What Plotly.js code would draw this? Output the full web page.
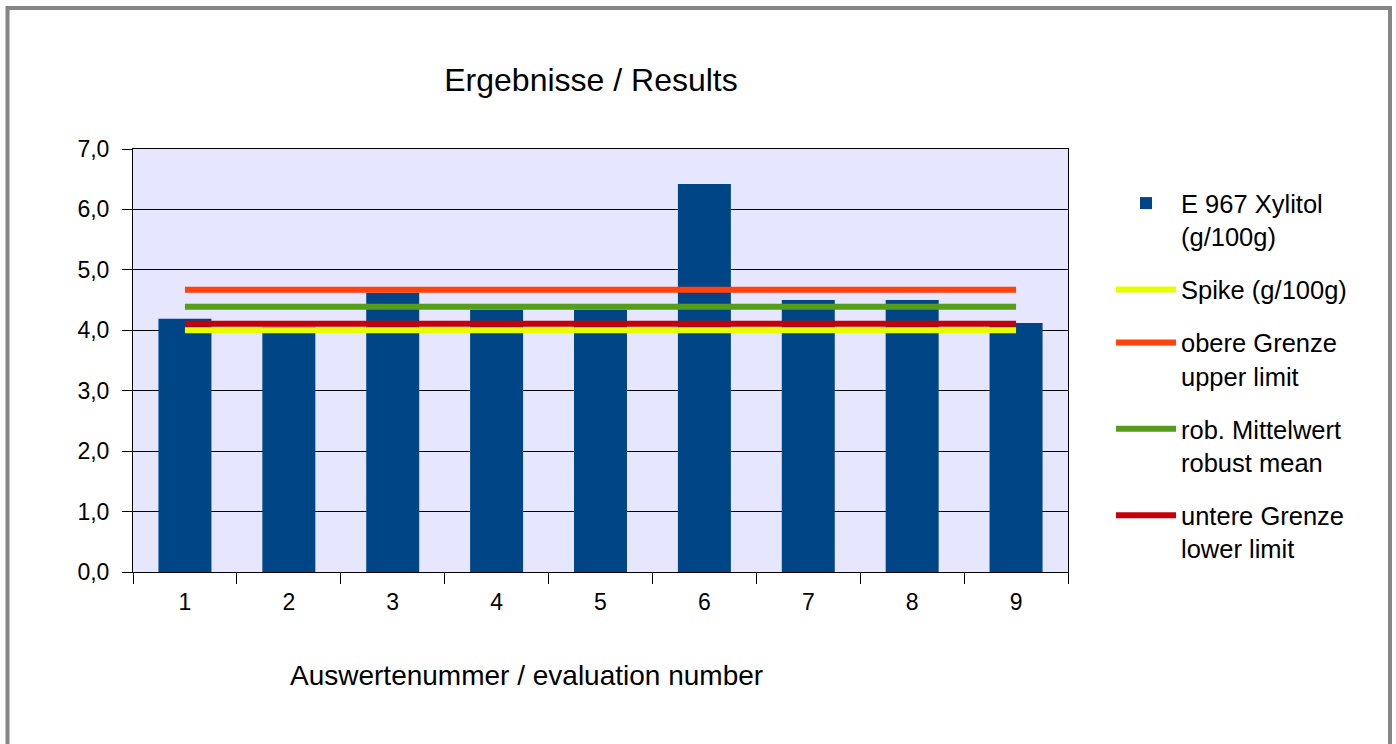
<!DOCTYPE html>
<html>
<head>
<meta charset="utf-8">
<script src="https://cdn.plot.ly/plotly-3.0.1.min.js"></script>
<style>
html,body{margin:0;padding:0;background:#fff;}
#chart{width:1396px;height:744px;}
</style>
</head>
<body>
<div id="chart"></div>
<script>
// ---- data ----
var categories = ["1", "2", "3", "4", "5", "6", "7", "8", "9"];
var xylitolValues = [4.19, 4.06, 4.62, 4.34, 4.34, 6.42, 4.50, 4.50, 4.12];
var lineEnds = ["1", "9"];
var spikeValues = [4.00, 4.00];
var upperLimitValues = [4.67, 4.67];
var robustMeanValues = [4.39, 4.39];
var lowerLimitValues = [4.11, 4.11];
var yTickValues = [0, 1, 2, 3, 4, 5, 6, 7];

var seriesNames = {
  bar: "E 967 Xylitol<br>(g/100g)",
  spike: "Spike (g/100g)",
  upper: "obere Grenze<br>upper limit",
  mean: "rob. Mittelwert<br>robust mean",
  lower: "untere Grenze<br>lower limit"
};

var FONT = "Liberation Sans, Arial, sans-serif";

var traces = [
  {type: "bar", x: categories, y: xylitolValues, name: seriesNames.bar,
   marker: {color: "#004586", line: {width: 0}}, legendgroup: "g1", hoverinfo: "y"},
  {type: "scatter", mode: "lines", x: lineEnds, y: spikeValues, name: seriesNames.spike,
   line: {color: "#e6ff00", width: 6}, legendgroup: "g2"},
  {type: "scatter", mode: "lines", x: lineEnds, y: upperLimitValues, name: seriesNames.upper,
   line: {color: "#ff420e", width: 6}, legendgroup: "g3"},
  {type: "scatter", mode: "lines", x: lineEnds, y: robustMeanValues, name: seriesNames.mean,
   line: {color: "#579d1c", width: 6}, legendgroup: "g4"},
  {type: "scatter", mode: "lines", x: lineEnds, y: lowerLimitValues, name: seriesNames.lower,
   line: {color: "#c5000b", width: 6}, legendgroup: "g5"}
];

var L = 133, R = 1068, T = 149, B = 572;
var W = R - L, H = B - T;
function px(x){ return (x - L) / W; }
function py(y){ return (B - y) / H; }

var layout = {
  width: 1396, height: 744,
  paper_bgcolor: "#ffffff",
  plot_bgcolor: "#e6e6ff",
  margin: {l: L, r: 1396 - R, t: T, b: 744 - B, pad: 0},
  font: {family: FONT, color: "#000000", size: 23},
  separators: ", ",
  showlegend: true,
  bargap: 0.49,
  title: {
    text: "Ergebnisse / Results",
    font: {family: FONT, size: 32, color: "#000"},
    xref: "container", yref: "container",
    x: 591 / 1396, xanchor: "center",
    y: 1 - 80 / 744, yanchor: "middle"
  },
  xaxis: {
    type: "category",
    categoryorder: "array", categoryarray: categories,
    tickson: "boundaries",
    ticks: "outside", ticklen: 11, tickwidth: 1, tickcolor: "#000",
    ticklabelstandoff: 9,
    showline: true, linecolor: "#000", linewidth: 1, mirror: true,
    showgrid: false, zeroline: false,
    tickfont: {family: FONT, size: 23, color: "#000"},
    fixedrange: true
  },
  yaxis: {
    range: [0, 7],
    tickvals: yTickValues,
    tickformat: ".1f",
    ticks: "outside", ticklen: 10, tickwidth: 1, tickcolor: "#000",
    ticklabelstandoff: 8,
    showline: true, linecolor: "#000", linewidth: 1, mirror: true,
    showgrid: true, gridcolor: "#000", gridwidth: 1,
    zeroline: false,
    tickfont: {family: FONT, size: 23, color: "#000"},
    fixedrange: true
  },
  legend: {
    x: px(1111), xanchor: "left",
    y: py(180), yanchor: "top",
    bgcolor: "rgba(0,0,0,0)",
    borderwidth: 0,
    font: {family: FONT, size: 25.5, color: "#000"},
    traceorder: "grouped",
    tracegroupgap: 17,
    valign: "top",
    itemwidth: 60
  },
  annotations: [
    {text: "Auswertenummer / evaluation number", xref: "paper", yref: "paper",
     x: px(526), y: py(675), xanchor: "center", yanchor: "middle",
     showarrow: false, font: {family: FONT, size: 28, color: "#000"}}
  ],
  shapes: [
    {type: "rect", xref: "paper", yref: "paper",
     x0: px(7.5), x1: px(1390), y0: py(8), y1: py(770),
     line: {color: "#858585", width: 4}, fillcolor: "rgba(0,0,0,0)", layer: "above"}
  ]
};

Plotly.newPlot("chart", traces, layout, {displayModeBar: false, staticPlot: true});
</script>
</body>
</html>
